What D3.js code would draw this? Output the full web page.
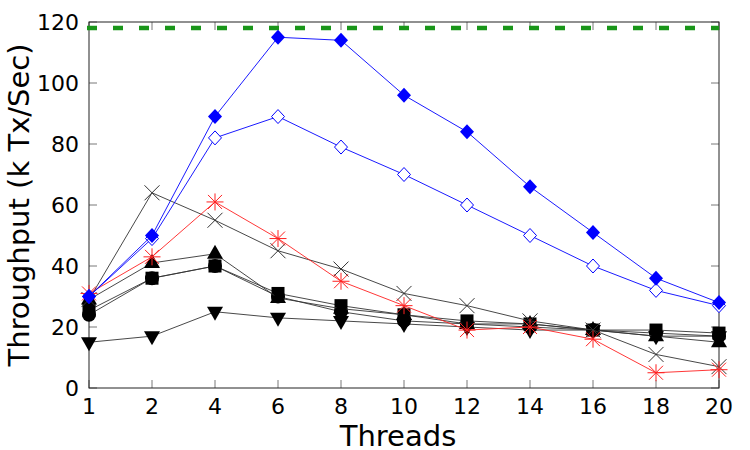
<!DOCTYPE html>
<html>
<head>
<meta charset="utf-8">
<script src="https://cdn.jsdelivr.net/npm/d3@7"></script>
<style>
  body { margin: 0; background: #fff; }
  text { font-family: "DejaVu Sans", sans-serif; }
</style>
</head>
<body>
<svg width="750" height="450"></svg>
<script>
var threads = [1, 2, 4, 6, 8, 10, 12, 14, 16, 18, 20];
var yTicks = [0, 20, 40, 60, 80, 100, 120];
var peakLine = 118;

// series, back to front
var triDown = [15, 17, 25, 23, 22, 21, 20, 19, 19, 17, 17];
var circles = [24, 36, 40, 30, 25, 22, 21, 20, 19, 18, 17];
var squares = [25.5, 36, 40, 31, 27, 24, 22, 21, 19, 19, 18];
var triUp = [29, 41, 44, 29.5, 26, 24, 21, 21, 19, 17, 15];
var crosses = [29, 64, 55, 45, 39, 31, 27, 22, 19, 11, 7];
var stars = [31, 43, 61, 49, 35, 27, 19, 20, 16, 5, 6];
var openDiamond = [30, 49, 82, 89, 79, 70, 60, 50, 40, 32, 27];
var fillDiamond = [30, 50, 89, 115, 114, 96, 84, 66, 51, 36, 28];

var series = [
    {values: triDown, color: "#000", line: "#333", mark: "triDown"},
    {values: circles, color: "#000", line: "#333", mark: "circle"},
    {values: squares, color: "#000", line: "#333", mark: "square"},
    {values: triUp, color: "#000", line: "#333", mark: "triUp"},
    {values: crosses, color: "#333", line: "#333", mark: "cross"},
    {values: stars, color: "#ff2020", line: "#ff2020", mark: "star"},
    {values: openDiamond, color: "#0000ff", line: "#0000ff", mark: "openDiamond"},
    {values: fillDiamond, color: "#0000ff", line: "#0000ff", mark: "diamond"}
];

var svg = d3.select("svg");
var plotL = 89, plotR = 719, plotT = 22, plotB = 388;

var x = d3.scalePoint().domain(threads).range([plotL, plotR]);
var y = d3.scaleLinear().domain([0, 120]).range([plotB, plotT]);

// ticks (inward, mirrored)
var tickG = svg.append("g").attr("stroke", "#555").attr("stroke-width", 0.8);
threads.forEach(function(t) {
    tickG.append("line").attr("x1", x(t)).attr("x2", x(t)).attr("y1", plotB).attr("y2", plotB - 8);
    tickG.append("line").attr("x1", x(t)).attr("x2", x(t)).attr("y1", plotT).attr("y2", plotT + 8);
});
yTicks.forEach(function(v) {
    tickG.append("line").attr("x1", plotL).attr("x2", plotL + 8).attr("y1", y(v)).attr("y2", y(v));
    tickG.append("line").attr("x1", plotR).attr("x2", plotR - 8).attr("y1", y(v)).attr("y2", y(v));
});

// frame
svg.append("rect")
    .attr("x", plotL).attr("y", plotT)
    .attr("width", plotR - plotL).attr("height", plotB - plotT)
    .attr("fill", "none").attr("stroke", "#222").attr("stroke-width", 1);

// tick labels
svg.append("g").selectAll("text")
    .data(threads)
    .enter().append("text")
    .attr("x", function(d) { return x(d); })
    .attr("y", 414)
    .attr("text-anchor", "middle")
    .style("font-size", "22px")
    .text(function(d) { return d; });

svg.append("g").selectAll("text")
    .data(yTicks)
    .enter().append("text")
    .attr("x", 79)
    .attr("y", function(d) { return y(d) + 8; })
    .attr("text-anchor", "end")
    .style("font-size", "22px")
    .text(function(d) { return d; });

// axis titles
svg.append("text")
    .attr("x", 398).attr("y", 446)
    .attr("text-anchor", "middle")
    .style("font-size", "29px")
    .text("Threads");

svg.append("text")
    .attr("transform", "translate(29," + ((plotT + plotB) / 2) + ") rotate(-90)")
    .attr("text-anchor", "middle")
    .style("font-size", "29px")
    .text("Throughput (k Tx/Sec)");

// green dashed peak line
svg.append("line")
    .attr("x1", plotL - 2).attr("x2", plotR)
    .attr("y1", y(peakLine)).attr("y2", y(peakLine))
    .attr("stroke", "#1a961a")
    .attr("stroke-width", 4.5)
    .attr("stroke-dasharray", "10,16");

var line = d3.line()
    .x(function(d, i) { return x(threads[i]); })
    .y(function(d) { return y(d); });

function drawMark(g, kind, color, cx, cy) {
    var s;
    if (kind === "square") {
        g.append("rect").attr("x", cx - 6.5).attr("y", cy - 6.5).attr("width", 13).attr("height", 13).attr("fill", color);
    } else if (kind === "circle") {
        g.append("circle").attr("cx", cx).attr("cy", cy).attr("r", 7).attr("fill", color);
    } else if (kind === "triUp") {
        g.append("path").attr("d", "M" + cx + "," + (cy - 9) + "L" + (cx + 8) + "," + (cy + 5) + "L" + (cx - 8) + "," + (cy + 5) + "Z").attr("fill", color);
    } else if (kind === "triDown") {
        g.append("path").attr("d", "M" + cx + "," + (cy + 9) + "L" + (cx + 8) + "," + (cy - 5) + "L" + (cx - 8) + "," + (cy - 5) + "Z").attr("fill", color);
    } else if (kind === "diamond") {
        g.append("path").attr("d", "M" + cx + "," + (cy - 7.5) + "L" + (cx + 7) + "," + cy + "L" + cx + "," + (cy + 7.5) + "L" + (cx - 7) + "," + cy + "Z").attr("fill", color);
    } else if (kind === "openDiamond") {
        g.append("path").attr("d", "M" + cx + "," + (cy - 7) + "L" + (cx + 6.5) + "," + cy + "L" + cx + "," + (cy + 7) + "L" + (cx - 6.5) + "," + cy + "Z")
            .attr("fill", "#fff").attr("stroke", color).attr("stroke-width", 1);
    } else if (kind === "cross") {
        s = 7.5;
        g.append("path").attr("d", "M" + (cx - s) + "," + (cy - s) + "L" + (cx + s) + "," + (cy + s) + "M" + (cx - s) + "," + (cy + s) + "L" + (cx + s) + "," + (cy - s))
            .attr("stroke", color).attr("stroke-width", 1);
    } else if (kind === "star") {
        s = 7;
        g.append("path").attr("d", "M" + (cx - s) + "," + (cy - s) + "L" + (cx + s) + "," + (cy + s) + "M" + (cx - s) + "," + (cy + s) + "L" + (cx + s) + "," + (cy - s) +
            "M" + (cx - 8.5) + "," + cy + "L" + (cx + 8.5) + "," + cy + "M" + cx + "," + (cy - 8.5) + "L" + cx + "," + (cy + 8.5))
            .attr("stroke", color).attr("stroke-width", 1);
    }
}

series.forEach(function(sr) {
    var g = svg.append("g");
    g.append("path")
        .datum(sr.values)
        .attr("d", line)
        .attr("fill", "none")
        .attr("stroke", sr.line)
        .attr("stroke-width", 0.9);
    sr.values.forEach(function(v, i) {
        drawMark(g, sr.mark, sr.color, x(threads[i]), y(v));
    });
});
</script>
</body>
</html>
